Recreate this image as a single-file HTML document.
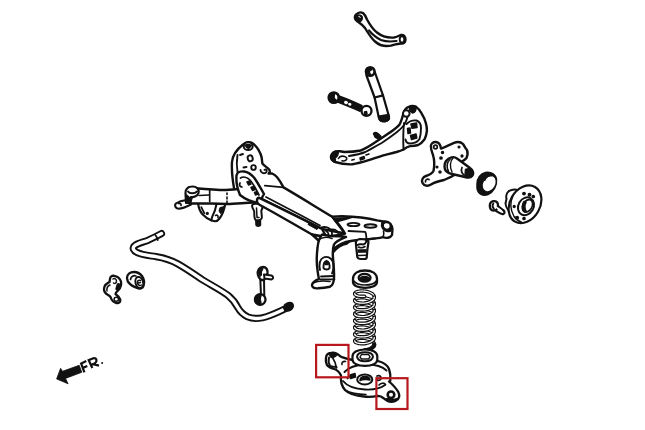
<!DOCTYPE html>
<html><head><meta charset="utf-8">
<style>
html,body{margin:0;padding:0;background:#fff;width:645px;height:430px;overflow:hidden}
svg{display:block;filter:blur(0.3px)}
.s{fill:#fff;stroke:#111;stroke-linejoin:round;stroke-linecap:round}
.s:not([stroke-width]){stroke-width:2.4}
.n{fill:none;stroke:#111;stroke-linejoin:round;stroke-linecap:round}
.n:not([stroke-width]){stroke-width:2.2}
.t{fill:none;stroke:#111;stroke-linecap:round}
.t:not([stroke-width]){stroke-width:1.7}
.k{fill:#111;stroke:#111;stroke-linejoin:round}
.k:not([stroke-width]){stroke-width:1.5}
.r{fill:none;stroke:#b8181d;stroke-width:2.2}
</style></head><body>
<svg width="645" height="430" viewBox="0 0 645 430">
<!-- subframe -->
<g id="subframe">
<!-- tower + top face -->
<path class="s" d="M243,144.5 C246,141.5 251,141.5 253.5,143.8 C256,146 257.5,148 258.5,149.9 C260,152.5 261.2,155 261.6,157.3 C262,159.5 262,161.5 262.4,163.5 C264,165.5 266,166.5 267.5,168 C269,169 270,170 269.8,171.5 C269.5,172.5 269,173 268.6,173.6 L272.1,173.5 C274,174.5 275.8,175.8 277.1,177.2 C279.5,180 281.5,183.5 283.5,187.4 C300,197 316,207 332.3,216.8 L345,233.5 L322,229 C300,218 280,208 258.7,197.7 L240,195 L234.3,189.8 C232.5,180 231.5,170 232,162 C232.5,156 236,150 243,144.5 Z"/>
<ellipse cx="248.2" cy="146.2" rx="4.5" ry="3.9" class="s" stroke-width="2"/>
<path class="k" d="M245.2,145.2 C246.5,144.5 249.5,144.5 251.2,145.2 C250.5,147.5 248.5,148.3 248.2,148.3 C247.5,148 246,147 245.2,145.2 Z"/>
<path class="n" d="M237.5,155 C236.5,161 236.5,166 237.5,172" stroke-width="1.9"/>
<ellipse cx="250.2" cy="158.3" rx="2.5" ry="3" transform="rotate(-15 250.2 158.3)" class="t" stroke-width="1.9"/>
<path class="t" d="M240,155 L243,154" stroke-width="1.9"/>
<path class="t" d="M243.5,167.5 L246.5,167" stroke-width="1.9"/>
<ellipse cx="253.5" cy="167.5" rx="2.3" ry="2.4" class="t" stroke-width="1.9"/>
<path class="t" d="M260.5,170 C260.5,173 264,174 266,172.5 C267.5,171 266.5,169 264.5,169.8" stroke-width="1.9"/>
<path class="n" d="M264.9,185.6 L283.5,187.4" stroke-width="1.9"/>
<!-- hanging bracket under crossmember -->
<path class="s" d="M198,203 C198.5,207 199.5,211 202.5,214.3 C204.5,216.5 207.5,219 211.5,220.4 L214,221 C216,221.8 218,220.5 219.5,218.5 C222,215.5 224,211 225.5,203 Z" stroke-width="2.1"/>
<path class="n" d="M216.4,204.5 C215.8,208 214.8,212 212.5,216 C211.8,217.5 211.5,219 211.5,220.4" stroke-width="2"/>
<path class="n" d="M201.3,207.1 C202.2,209 203.2,211 204.3,213.1" stroke-width="1.8"/>
<circle cx="207.3" cy="213.4" r="1.6" fill="#111"/>
<path class="k" d="M220,207.5 L224.5,206.5 L223.5,211.5 L220.5,213.5 L219,211 Z" stroke-width="1"/>
<path class="n" d="M215.5,215.5 C217,214.5 218.5,215.5 218,217.5" stroke-width="1.6"/>
<!-- left crossmember -->
<path class="s" d="M188.5,187.5 C200,188.5 212,190 226,190 C234,189.5 242,188.5 252,188.5 L254,202.5 C243,203 235,204 227,204 L211,203.5 L190,203.5 Z"/>
<path class="s" d="M186.5,200 C182,200.5 178,202 175.8,203.5 C174.3,205.5 175.3,208.5 178.5,208.8 C182.5,208.5 187,206.5 191,204.5 Z" stroke-width="2.1"/>
<path class="t" d="M178.5,203.5 C180,203 181.5,204 181,205.5"/>
<path class="s" d="M185.5,193 C185,189 188.5,186.5 192.5,186.5 C196.5,186.5 199.5,189 198.5,193 C197.5,196 194,197.5 191,197 L190,203 L186,203 Z" stroke-width="2.2"/>
<path class="k" d="M186.5,195 C188,197 190,198 192,198 L190.5,203 L186.5,203 Z"/>
<path class="n" d="M188,191.5 C189.5,193.8 194.5,194 197,191.5" stroke-width="2"/>
<path class="n" d="M199,195.5 L209,195" stroke-width="1.6"/>
<path class="n" d="M209.7,190.5 L209.7,201.5" stroke-width="1.7"/>
<path class="n" d="M227,193 L227,194.5 M227,197 L227,199 M227,201 L227,203.5" stroke-width="1.6"/>
<!-- rail left raised end -->
<path class="s" d="M236.5,175.5 C237,172.5 240.5,171 244,171.5 C247.5,172 251,174 254,177.5 C258,183 261,189 264,194 L259,203 C252,202 245,199 240,195 C237.5,189 236,181 236.5,175.5 Z"/>
<path class="n" d="M240.5,178 C243,176.5 247,177 250,180 C253.5,184 256,189 259,195" stroke-width="1.7"/>
<path class="k" d="M247,182 L249.5,181 L251,184 L248.5,185 Z M251,187.5 L253.5,186.5 L255,189.5 L252.5,190.5 Z M254.5,192.5 L257,191.5 L258,194 L255.5,195 Z"/>
<path class="t" d="M240,183 C239,185 240,187 242,187"/>
<!-- hanging bolt -->
<path class="k" d="M255.8,219 L260.4,219 L260.5,225 C260,226.5 256.5,226.5 256,225 Z"/>
<path class="s" d="M252,206 C252,204 254.5,203.5 257,203.8 C260,204 262.5,205 262.5,207.5 C262.3,209 261.5,210 261.3,211 C261.5,213.5 262,216 261.8,218 C261,220.3 257.5,220.8 255.5,219.8 C254.3,218.5 254.2,215 254.3,212 C254.3,210.5 253.5,209.5 252.8,208.5 Z" stroke-width="2"/>
<path class="n" d="M256.5,208 L257,217.5 L259,217.5" stroke-width="1.5"/>
<!-- front tube -->
<path class="s" d="M258.7,197.7 C280,208 300,218 322,229 L327,238 C320,238 316,237 312,234.5 C295,225 277,214 259.4,204.7 C256.5,203.5 256,199 258.7,197.7 Z"/>
<path class="n" d="M266,197 C285,207 302,216 320,225.5" stroke-width="1.7"/>
<path class="k" d="M309,222.5 L318,227.5 L317,229.5 L308,224.5 Z" stroke-width="1"/>
<!-- right bracket -->
<path class="s" d="M332.3,216.8 L342,216.2 C355,216.5 366,217.5 377,220.4 L388,222.3 C392,224.5 393,230 392,235 C390.5,238 386,238.5 383,237.2 C378,238.5 372,239 365,239.5 C358,240 350,241 346,242 C340,244 334,248 330,253 L318,240 L312,234.5 C322,237 334,237 345,233.5 C342,228 337,222 332.3,216.8 Z"/>
<path class="n" d="M320,228 C324,226.5 328,227 330.5,229.5 C332.5,232 332.5,235 331,238" stroke-width="1.9"/>
<path class="n" d="M326,231 C328,232 329,234.5 328,237" stroke-width="1.6"/>
<path class="n" d="M330.5,229.5 C334,228.5 337,230 338,233" stroke-width="1.6"/>
<path class="k" d="M334,219 L352,217.3 C348,219 342,220 336,222 Z"/>
<ellipse cx="353.5" cy="224.5" rx="6" ry="1.6" class="s" stroke-width="1.9"/>
<ellipse cx="370.5" cy="226" rx="6" ry="1.8" class="s" stroke-width="1.9"/>
<path class="n" d="M348.5,231 L365,231.8 C366.5,233 366,236 366.5,239" stroke-width="1.8"/>
<path class="k" d="M382,222 C386,220 391,222 392.3,226.5 C393,230 391,232 387.5,231.5 C384,231 382,228.5 381.5,225.5 Z"/>
<path d="M384,224.5 C385,222.8 387.5,222.8 389,224 C390,225.5 389.8,227.8 388,228.5 C386.5,229 384.5,228 384,226.5 Z" fill="#fff"/>
<path class="n" d="M383.5,231 C384,233 384,235.5 383,237.2" stroke-width="1.6"/>
<path class="k" d="M332,251 C336,246 342,243 350,241.5 L347,244 C341,245 337,248 333,253 Z"/>
<!-- bump stop bracket -->
<path class="s" d="M355.8,242 C356,246 356.8,252 357.3,257 C357.8,258.5 359,259 361,259 L364.5,259 C366,259 366.8,258 366.8,257 C367,252 367.8,246 368.5,242 C367,239.5 363,239 360,239 C358,239.2 356.5,240 355.8,242 Z" stroke-width="2.2"/>
<path class="n" d="M357.5,245 C359.5,243.5 361.5,244.5 363,244.5 C365,244.3 366,242.5 366.5,241 C368,239.5 371,238.8 375,238.6" stroke-width="2"/>
<path class="n" d="M358.5,247 C360.5,248 363,248 365,246.5" stroke-width="1.6"/>
<path class="k" d="M357.8,249.8 L366.2,249.5 L366,252.2 L358.2,252.5 Z" stroke-width="0.8"/>
<path class="t" d="M358.6,255.5 L366,255.3" stroke-width="1.6"/>
<!-- leg -->
<path class="s" d="M322.2,234.5 C319,238 318,242 317.5,248 C316.5,256 316.5,263 317.4,269.3 C318,274 318.5,277 319,278.8 C316,280 312.5,282 312,285 C312,287.5 314,288.5 318,288.3 C322,288 326,287.5 330,286.7 C332.5,285.5 333.8,283 334,278 C334.3,272 333.8,266 333.2,260 C332.5,254 332.5,249 334,244.5 C336,241 340,239.5 346,237 C340,236 334,236 330,236 Z"/>
<path class="n" d="M318,240 C322,237 328,237 332,238.5" stroke-width="1.6"/>
<path class="n" d="M320,270 C319,265 319.5,259.5 323.5,257.5 C327,256 331,257.5 332.8,261.5 C334,265 333.5,270 332,273.5" stroke-width="1.9"/>
<path class="s" d="M323.5,268 C323.3,264 324,261.5 326.5,260.8 C329,261.5 329.8,264 329.6,268 C328.5,270 324.5,270 323.5,268 Z" stroke-width="1.9"/>
<path class="k" d="M325,262.5 C325.8,261 327.5,261 328.2,262.5 L328,264.5 L325.2,264.5 Z"/>
<path class="t" d="M321,276.5 L334,276 M320.5,279.5 L334.5,279.3" stroke-width="1.8"/>
<path class="t" d="M313,283 C317,281 322,280.5 330,281.5" stroke-width="1.6"/>
</g>
<!-- top upper arm -->
<g id="toparm">
<path class="s" d="M356,14.5 C358,12.5 361,12 363,13 C365,14.5 366,17 367,19.5 C370,25 373,29.5 377,32.5 C382,36.5 388,38 394,37.5 C397,37 399,35.5 401,35 C403.5,34.5 405.5,36.5 405.5,39.5 C405.5,42.5 403.5,44 401,43.5 C398,43.5 395,44.5 391,45.6 C385,46.8 379,45 375,41.5 C371,38 368,33 365,28 C362.5,24.5 359,22.5 357,21 C354.5,19 354.5,16.5 356,14.5 Z"/>
<path class="k" d="M356,16 C357.5,14.5 360.5,14.5 362,16.5 C362.8,18.5 362,21 360,21.5 C358,22 355.5,20.5 355.3,18.5 Z"/>
<path d="M358.5,16.5 C359.5,16 360.5,17 360,18" fill="none" stroke="#fff" stroke-width="1"/>
<path class="n" d="M369,30.5 C372.5,34.5 376.5,38 381,40 C386,41.8 391,41.8 396.5,41" stroke-width="2.2"/>
<ellipse cx="402" cy="39.5" rx="2.3" ry="3.1" class="s" stroke-width="1.9"/>
</g>
<!-- shock absorber -->
<g id="shock">
<path class="s" d="M366.3,75 L374.6,97.5 L378.8,117.5 C379.5,120.3 382,121.5 384.8,121.3 C387.8,121 389.6,119.3 389,116.5 L383,95.4 L374.8,72 Z" stroke-width="2.2"/>
<path class="n" d="M374.6,97.5 L383,95.4" stroke-width="2.2"/>
<path class="k" d="M378.5,116.2 L388.6,114.5 L389.2,118 C388.8,120.5 386.5,121.6 383.8,121.6 C381,121.5 379.5,120.5 379,118.5 Z"/>
<circle cx="370.2" cy="71.5" r="4.3" class="s" stroke-width="2.5"/>
<path class="k" d="M366.8,70 C367.3,68.3 369,67.5 371,67.8 L372,69.8 C370.2,69.7 369.2,71 369.5,73 L370.6,74.6 C368.6,74.6 366.6,72.5 366.8,70 Z"/>
</g>
<!-- toe link -->
<g id="toelink">
<path class="k" d="M338,95.8 C345,98 352,101 362,105.8 L360,111.2 C351,107.5 344,104.5 336.5,101.5 Z"/>
<ellipse cx="346" cy="102.5" rx="2" ry="1.7" transform="rotate(25 346 102.5)" fill="#fff"/>
<ellipse cx="349.8" cy="104.3" rx="1.7" ry="1.4" transform="rotate(25 349.8 104.3)" fill="#fff"/>
<circle cx="333.8" cy="97.6" r="5" class="s" stroke-width="2.8"/>
<path class="k" d="M330,96 C330.5,94 332.5,93 334.5,93.5 L334,97.5 C334.5,99 335.5,100 336.5,100.5 L334.5,101.8 C331.5,101.5 329.7,99 330,96 Z"/>
<circle cx="366.5" cy="110.8" r="5" class="s" stroke-width="2.3"/>
<path class="k" d="M364.5,112 L366.5,111.5 L367,114 L365,114.5 Z"/>
</g>
<!-- trailing arm carrier -->
<g id="carrier">
<path class="s" d="M331,156 C332,152.5 335.5,151 340,151.3 L344.3,152 C350,152 356,151.5 360.6,150.5 C366,148.5 371,145 375.2,142.3 C380,139 385,136 389.8,132.6 C394,129.5 397.5,127 399.6,124.4 C401.5,121 402.5,117 403.5,113 C404.5,109.5 407,107 410,106.3 C412.5,105.8 414.5,106 415.9,106.6 C418.5,108.5 420.5,111 421.7,113.6 C423.5,116.5 425,119.5 425.8,122.9 C426.7,126 427,128.5 426.9,131 C426.5,134 425.7,137 424.6,139.2 C422.5,142 420.5,144 418.2,145 C415.5,145.8 412.8,146 410.1,146.1 C408,146.5 406,147.5 403.5,149.5 C400,151 398,151.5 396.4,152 C391,153.5 387,154.3 383.3,155.3 C378,157 373,158.8 368.7,160.2 C363,162 358,163.5 352.4,164.3 C346,164.6 340,163.5 335,162 C331.8,160.5 330.6,158.5 331,156 Z"/>
<path class="n" d="M349,156 C355,155 360,154 365.4,152 C371,149 376,146 381.7,143 C387,139.5 392,136 396.4,132.6 C400,129.5 403,127 404.5,124.4 C406,121.5 407,119 407.8,116.3" stroke-width="1.9"/>
<path class="n" d="M404,123 C403.3,130 403,138 403.5,149.5" stroke-width="1.9"/>
<circle cx="406.3" cy="113.5" r="3.3" class="s" stroke-width="1.9"/>
<path class="k" d="M409.5,107 C411.5,105.8 414.5,106 416,107.5 C416.5,110 415,112.5 412.5,113 C411,112.5 410,111 409.5,110 Z"/>
<path class="n" d="M406.5,124 C409,121.5 413,120 416.5,120.5 C419.5,121.5 421,124.5 421,128 C421,132 420.5,136 419.5,139 C417.5,142 414,143.5 410,143.5 C407.5,143.5 406,142 405.5,139.5" stroke-width="1.9"/>
<path class="k" d="M411,124 L416.5,123 L417,127.5 L412,128.3 Z"/>
<path class="k" d="M407.5,128.5 L410,128 L410.5,133 L408,133.5 Z"/>
<path class="k" d="M410.5,135.5 L416,134 L416.8,138 L411.5,139.5 Z"/>
<path class="k" d="M373.5,133.5 C375,132 377,132.5 378.5,134 L381,136.5 L378.5,139 L375,137 Z"/>
<path class="k" d="M331,156 C332,152.5 335,151 338,151.5 C339,154 337,157 335,158 C336,160 335,162 334,162 C331.5,160.5 330.5,158.5 331,156 Z"/>
<path class="t" d="M338.5,158.5 C340,155.5 344,155.5 346.5,157.5 C347.5,159.5 345.5,161.5 342,160.8" stroke-width="1.6"/>
<path class="t" d="M352,160 L354,159.5" stroke-width="1.8"/>
<path class="k" d="M360,158 L364,156.5 L364.5,158.5 L360.5,160 Z"/>
<path class="t" d="M366,155 L369,154" stroke-width="1.6"/>
</g>
<!-- knuckle -->
<g id="knuckle">
<path class="s" d="M430.8,146.5 C430.8,143.5 433,141.8 436,142 C439,142.3 440.5,144.8 441,148.5 C444.5,147.5 449,145 454,142.8 C457.5,141.5 461,142 463,144 C464.5,146 465,148 467,150 C468,153 467.5,156 466.5,158 C465,160 463,161 461,162 L456,174 C453,176 449,178 444,180 C439,181 435,182 431,184.5 C428,186.5 424,186 422.5,183 C421,180 423,177 426,176 C429,175 432,173.5 433.5,171 C434.5,166 434.5,160 433,155 C432,152 430.5,149 431,146 Z"/>
<circle cx="435.5" cy="147" r="1.8" class="t"/>
<path class="t" d="M425.5,182 C425,180 427,178.5 429,179.5"/>
<circle cx="442.5" cy="152.5" r="1" class="k"/><circle cx="441" cy="158" r="1.1" class="k"/>
<circle cx="440" cy="172" r="1" class="k"/><circle cx="437" cy="167" r="0.8" class="k"/>
<circle cx="462" cy="156" r="0.9" class="k"/><circle cx="459" cy="147" r="0.8" class="k"/>
<path class="s" d="M446,161 C449,157 454,156 457,158.5 L470,168 C473,170 474,173 472.5,175.5 C471,177.5 468,178 465,177 L452,174 C447,173 444.5,170 444.5,166.5 C444.5,164 445,162.5 446,161 Z"/>
<path class="n" d="M450,159.5 C447,162 446,167 448.5,171.5" stroke-width="1.6"/>
<path class="n" d="M453,158 C450,161 449.5,167 452,172" stroke-width="1.4"/>
<path class="k" d="M465.5,169.5 C467.5,168.5 470,168.5 471.5,170 C473.5,172 473.5,175 472,176 C470,177 467,176.5 465,175.5 Z"/>
<path class="t" d="M462,167.5 C461,170 461.5,173 464,175"/>
</g>
<!-- seal ring -->
<g id="seal">
<path class="k" d="M477,184 C477,178 480.5,173.5 485.5,172.5 C491,171.5 495.8,174.5 496.5,179.5 C497.2,185.5 493.5,192 488,194.5 C482.5,196.5 477.5,193.5 477,188 Z"/>
<ellipse cx="489.2" cy="183.6" rx="5.8" ry="8" transform="rotate(30 489.2 183.6)" fill="#fff"/>
<path d="M484.5,181 C485.5,177 489,175 492,176" fill="none" stroke="#111" stroke-width="1.3"/>
</g>
<!-- hub bolt -->
<g id="bolt">
<path class="s" d="M496,205 C498.5,206.5 501,208.3 503,210 C504.8,211.3 505,213.3 503.5,214 C502,214.6 500,213.6 498,212.2 C496.5,211.2 495.5,210.3 494.5,209.5 Z" stroke-width="2.2"/>
<path class="s" d="M489.8,205.5 C489.8,202.5 492,201 494.3,201.2 C496.8,201.5 498.2,203.5 498,206 C497.8,208.5 496,210.6 493.5,210.6 C491.2,210.5 489.8,208.3 489.8,205.5 Z" stroke-width="2.3"/>
<path class="n" d="M493.3,203.5 C492.3,205 492.5,207.5 494,209" stroke-width="1.8"/>
<path d="M496.2,207.2 L501.5,211" stroke="#fff" stroke-width="1.6"/>
</g>
<!-- hub -->
<g id="hub">
<path class="s" d="M506.5,199 C505.5,194.5 507.5,191 511.5,190 C514,189.3 516.5,189.5 518,190.5 L521,214 L514,213.5 C509,212.5 506,208 505.5,203.5 Z" stroke-width="2"/>
<ellipse cx="525" cy="204.3" rx="15" ry="20" transform="rotate(30 525 204.3)" class="s" stroke-width="2.2"/>
<path d="M513,196 C510,202 510.5,210 514,216.5 C516,219.5 519,221.5 522,222.5" fill="none" stroke="#111" stroke-width="1.4"/>
<ellipse cx="526" cy="206.3" rx="7.6" ry="9.3" transform="rotate(30 526 206.3)" class="s" stroke-width="2"/>
<ellipse cx="527.5" cy="205.8" rx="4.6" ry="6.6" transform="rotate(30 527.5 205.8)" class="s" stroke-width="1.8"/>
<path class="k" d="M524,201.5 C522,204 522,209 524.5,212 L526,211 C524.5,208.5 524.5,204.5 526,202.5 Z"/>
<circle cx="524" cy="193.6" r="1.2" class="k"/><circle cx="529.5" cy="194.8" r="1.2" class="k"/><circle cx="533.3" cy="196.5" r="1.1" class="k"/>
<circle cx="514.2" cy="206.5" r="0.9" class="k"/><circle cx="517" cy="217.8" r="1.4" class="k"/><circle cx="524" cy="218.5" r="1.1" class="k"/>
</g>
<!-- spring seat -->
<g id="seat">
<path class="s" d="M353,279 C353,273.5 358,270.5 365,270.5 C372,270.5 377,273.5 377,279 L377,282 C377,285.5 372,287.8 365,287.8 C358,287.8 353,285.5 353,282 Z" stroke-width="2.3"/>
<path class="n" d="M353.8,281 C356,284 360,285 365,285 C370,285 374.5,284 376.3,281" stroke-width="1.7"/>
<ellipse cx="364.6" cy="277.8" rx="6" ry="3.9" class="s" stroke-width="2.2"/>
<path class="k" d="M359.5,279.5 C360,277.5 362,276.5 364.6,276.5 C367.5,276.5 369.3,277.5 369.7,279.5 C368,281.3 361.5,281.3 359.5,279.5 Z"/>
</g>
<!-- spring -->
<g id="spring">
<path d="M354.7,293.7 L354.8,293.3 L355.0,292.9 L355.4,292.5 L356.0,292.1 L356.7,291.8 L357.6,291.5 L358.5,291.3 L359.6,291.1 L360.7,291.0 L362.0,290.9 L363.2,291.0 L364.5,291.1 L365.8,291.3 L367.0,291.5 L368.3,291.8 L369.4,292.2 L370.5,292.7 L371.4,293.2 L372.3,293.7 L373.0,294.4 L373.6,295.0 L374.0,295.7 L374.2,296.4 L374.3,297.1" fill="none" stroke="#111" stroke-width="3.4" stroke-linecap="round"/>
<path d="M354.7,293.7 L354.8,293.3 L355.0,292.9 L355.4,292.5 L356.0,292.1 L356.7,291.8 L357.6,291.5 L358.5,291.3 L359.6,291.1 L360.7,291.0 L362.0,290.9 L363.2,291.0 L364.5,291.1 L365.8,291.3 L367.0,291.5 L368.3,291.8 L369.4,292.2 L370.5,292.7 L371.4,293.2 L372.3,293.7 L373.0,294.4 L373.6,295.0 L374.0,295.7 L374.2,296.4 L374.3,297.1" fill="none" stroke="#fff" stroke-width="1.2" stroke-linecap="round"/>
<path d="M354.7,300.4 L354.8,300.0 L355.0,299.6 L355.4,299.2 L356.0,298.9 L356.7,298.5 L357.6,298.2 L358.5,298.0 L359.6,297.8 L360.7,297.7 L362.0,297.7 L363.2,297.7 L364.5,297.8 L365.8,298.0 L367.0,298.3 L368.3,298.6 L369.4,299.0 L370.5,299.4 L371.4,299.9 L372.3,300.5 L373.0,301.1 L373.6,301.7 L374.0,302.4 L374.2,303.1 L374.3,303.8" fill="none" stroke="#111" stroke-width="3.4" stroke-linecap="round"/>
<path d="M354.7,300.4 L354.8,300.0 L355.0,299.6 L355.4,299.2 L356.0,298.9 L356.7,298.5 L357.6,298.2 L358.5,298.0 L359.6,297.8 L360.7,297.7 L362.0,297.7 L363.2,297.7 L364.5,297.8 L365.8,298.0 L367.0,298.3 L368.3,298.6 L369.4,299.0 L370.5,299.4 L371.4,299.9 L372.3,300.5 L373.0,301.1 L373.6,301.7 L374.0,302.4 L374.2,303.1 L374.3,303.8" fill="none" stroke="#fff" stroke-width="1.2" stroke-linecap="round"/>
<path d="M354.7,307.2 L354.8,306.8 L355.0,306.4 L355.4,306.0 L356.0,305.6 L356.7,305.3 L357.6,305.0 L358.5,304.8 L359.6,304.6 L360.7,304.5 L362.0,304.4 L363.2,304.5 L364.5,304.6 L365.8,304.8 L367.0,305.0 L368.3,305.3 L369.4,305.7 L370.5,306.2 L371.4,306.7 L372.3,307.2 L373.0,307.9 L373.6,308.5 L374.0,309.2 L374.2,309.9 L374.3,310.6" fill="none" stroke="#111" stroke-width="3.4" stroke-linecap="round"/>
<path d="M354.7,307.2 L354.8,306.8 L355.0,306.4 L355.4,306.0 L356.0,305.6 L356.7,305.3 L357.6,305.0 L358.5,304.8 L359.6,304.6 L360.7,304.5 L362.0,304.4 L363.2,304.5 L364.5,304.6 L365.8,304.8 L367.0,305.0 L368.3,305.3 L369.4,305.7 L370.5,306.2 L371.4,306.7 L372.3,307.2 L373.0,307.9 L373.6,308.5 L374.0,309.2 L374.2,309.9 L374.3,310.6" fill="none" stroke="#fff" stroke-width="1.2" stroke-linecap="round"/>
<path d="M354.7,313.9 L354.8,313.5 L355.0,313.1 L355.4,312.7 L356.0,312.4 L356.7,312.0 L357.6,311.7 L358.5,311.5 L359.6,311.3 L360.7,311.2 L362.0,311.2 L363.2,311.2 L364.5,311.3 L365.8,311.5 L367.0,311.8 L368.3,312.1 L369.4,312.5 L370.5,312.9 L371.4,313.4 L372.3,314.0 L373.0,314.6 L373.6,315.2 L374.0,315.9 L374.2,316.6 L374.3,317.3" fill="none" stroke="#111" stroke-width="3.4" stroke-linecap="round"/>
<path d="M354.7,313.9 L354.8,313.5 L355.0,313.1 L355.4,312.7 L356.0,312.4 L356.7,312.0 L357.6,311.7 L358.5,311.5 L359.6,311.3 L360.7,311.2 L362.0,311.2 L363.2,311.2 L364.5,311.3 L365.8,311.5 L367.0,311.8 L368.3,312.1 L369.4,312.5 L370.5,312.9 L371.4,313.4 L372.3,314.0 L373.0,314.6 L373.6,315.2 L374.0,315.9 L374.2,316.6 L374.3,317.3" fill="none" stroke="#fff" stroke-width="1.2" stroke-linecap="round"/>
<path d="M354.7,320.7 L354.8,320.3 L355.0,319.9 L355.4,319.5 L356.0,319.1 L356.7,318.8 L357.6,318.5 L358.5,318.3 L359.6,318.1 L360.7,318.0 L362.0,317.9 L363.2,318.0 L364.5,318.1 L365.8,318.3 L367.0,318.5 L368.3,318.8 L369.4,319.2 L370.5,319.7 L371.4,320.2 L372.3,320.7 L373.0,321.4 L373.6,322.0 L374.0,322.7 L374.2,323.4 L374.3,324.1" fill="none" stroke="#111" stroke-width="3.4" stroke-linecap="round"/>
<path d="M354.7,320.7 L354.8,320.3 L355.0,319.9 L355.4,319.5 L356.0,319.1 L356.7,318.8 L357.6,318.5 L358.5,318.3 L359.6,318.1 L360.7,318.0 L362.0,317.9 L363.2,318.0 L364.5,318.1 L365.8,318.3 L367.0,318.5 L368.3,318.8 L369.4,319.2 L370.5,319.7 L371.4,320.2 L372.3,320.7 L373.0,321.4 L373.6,322.0 L374.0,322.7 L374.2,323.4 L374.3,324.1" fill="none" stroke="#fff" stroke-width="1.2" stroke-linecap="round"/>
<path d="M354.7,327.4 L354.8,327.0 L355.0,326.6 L355.4,326.2 L356.0,325.9 L356.7,325.5 L357.6,325.2 L358.5,325.0 L359.6,324.8 L360.7,324.7 L362.0,324.7 L363.2,324.7 L364.5,324.8 L365.8,325.0 L367.0,325.3 L368.3,325.6 L369.4,326.0 L370.5,326.4 L371.4,326.9 L372.3,327.5 L373.0,328.1 L373.6,328.7 L374.0,329.4 L374.2,330.1 L374.3,330.8" fill="none" stroke="#111" stroke-width="3.4" stroke-linecap="round"/>
<path d="M354.7,327.4 L354.8,327.0 L355.0,326.6 L355.4,326.2 L356.0,325.9 L356.7,325.5 L357.6,325.2 L358.5,325.0 L359.6,324.8 L360.7,324.7 L362.0,324.7 L363.2,324.7 L364.5,324.8 L365.8,325.0 L367.0,325.3 L368.3,325.6 L369.4,326.0 L370.5,326.4 L371.4,326.9 L372.3,327.5 L373.0,328.1 L373.6,328.7 L374.0,329.4 L374.2,330.1 L374.3,330.8" fill="none" stroke="#fff" stroke-width="1.2" stroke-linecap="round"/>
<path d="M354.7,334.2 L354.8,333.8 L355.0,333.4 L355.4,333.0 L356.0,332.6 L356.7,332.3 L357.6,332.0 L358.5,331.8 L359.6,331.6 L360.7,331.5 L362.0,331.4 L363.2,331.5 L364.5,331.6 L365.8,331.8 L367.0,332.0 L368.3,332.3 L369.4,332.7 L370.5,333.2 L371.4,333.7 L372.3,334.2 L373.0,334.9 L373.6,335.5 L374.0,336.2 L374.2,336.9 L374.3,337.6" fill="none" stroke="#111" stroke-width="3.4" stroke-linecap="round"/>
<path d="M354.7,334.2 L354.8,333.8 L355.0,333.4 L355.4,333.0 L356.0,332.6 L356.7,332.3 L357.6,332.0 L358.5,331.8 L359.6,331.6 L360.7,331.5 L362.0,331.4 L363.2,331.5 L364.5,331.6 L365.8,331.8 L367.0,332.0 L368.3,332.3 L369.4,332.7 L370.5,333.2 L371.4,333.7 L372.3,334.2 L373.0,334.9 L373.6,335.5 L374.0,336.2 L374.2,336.9 L374.3,337.6" fill="none" stroke="#fff" stroke-width="1.2" stroke-linecap="round"/>
<path d="M354.7,340.9 L354.8,340.5 L355.0,340.1 L355.4,339.7 L356.0,339.4 L356.7,339.0 L357.6,338.7 L358.5,338.5 L359.6,338.3 L360.7,338.2 L362.0,338.2 L363.2,338.2 L364.5,338.3 L365.8,338.5 L367.0,338.8 L368.3,339.1 L369.4,339.5 L370.5,339.9 L371.4,340.4 L372.3,341.0 L373.0,341.6 L373.6,342.2 L374.0,342.9 L374.2,343.6 L374.3,344.3" fill="none" stroke="#111" stroke-width="3.4" stroke-linecap="round"/>
<path d="M354.7,340.9 L354.8,340.5 L355.0,340.1 L355.4,339.7 L356.0,339.4 L356.7,339.0 L357.6,338.7 L358.5,338.5 L359.6,338.3 L360.7,338.2 L362.0,338.2 L363.2,338.2 L364.5,338.3 L365.8,338.5 L367.0,338.8 L368.3,339.1 L369.4,339.5 L370.5,339.9 L371.4,340.4 L372.3,341.0 L373.0,341.6 L373.6,342.2 L374.0,342.9 L374.2,343.6 L374.3,344.3" fill="none" stroke="#fff" stroke-width="1.2" stroke-linecap="round"/>
<path d="M364.5,296.3 L363.9,296.4 L363.2,296.4 L362.6,296.4 L362.0,296.4 L361.3,296.4 L360.7,296.4 L360.2,296.3 L359.6,296.3 L359.1,296.2 L358.5,296.1 L358.0,296.0 L357.6,295.9 L357.1,295.7 L356.7,295.6 L356.4,295.4 L356.0,295.3 L355.7,295.1 L355.4,294.9 L355.2,294.7 L355.0,294.5 L354.9,294.3 L354.8,294.1 L354.7,293.9 L354.7,293.7" fill="none" stroke="#111" stroke-width="3.6" stroke-linecap="round"/>
<path d="M364.5,296.3 L363.9,296.4 L363.2,296.4 L362.6,296.4 L362.0,296.4 L361.3,296.4 L360.7,296.4 L360.2,296.3 L359.6,296.3 L359.1,296.2 L358.5,296.1 L358.0,296.0 L357.6,295.9 L357.1,295.7 L356.7,295.6 L356.4,295.4 L356.0,295.3 L355.7,295.1 L355.4,294.9 L355.2,294.7 L355.0,294.5 L354.9,294.3 L354.8,294.1 L354.7,293.9 L354.7,293.7" fill="none" stroke="#fff" stroke-width="1.3" stroke-linecap="round"/>
<path d="M374.3,297.1 L374.2,297.8 L374.0,298.5 L373.6,299.1 L373.0,299.8 L372.3,300.4 L371.4,300.9 L370.5,301.5 L369.4,301.9 L368.3,302.3 L367.0,302.6 L365.8,302.9 L364.5,303.1 L363.2,303.2 L362.0,303.2 L360.7,303.1 L359.6,303.0 L358.5,302.9 L357.6,302.6 L356.7,302.4 L356.0,302.0 L355.4,301.7 L355.0,301.3 L354.8,300.9 L354.7,300.4" fill="none" stroke="#111" stroke-width="3.6" stroke-linecap="round"/>
<path d="M374.3,297.1 L374.2,297.8 L374.0,298.5 L373.6,299.1 L373.0,299.8 L372.3,300.4 L371.4,300.9 L370.5,301.5 L369.4,301.9 L368.3,302.3 L367.0,302.6 L365.8,302.9 L364.5,303.1 L363.2,303.2 L362.0,303.2 L360.7,303.1 L359.6,303.0 L358.5,302.9 L357.6,302.6 L356.7,302.4 L356.0,302.0 L355.4,301.7 L355.0,301.3 L354.8,300.9 L354.7,300.4" fill="none" stroke="#fff" stroke-width="1.3" stroke-linecap="round"/>
<path d="M374.3,303.8 L374.2,304.5 L374.0,305.2 L373.6,305.9 L373.0,306.5 L372.3,307.1 L371.4,307.7 L370.5,308.2 L369.4,308.7 L368.3,309.1 L367.0,309.4 L365.8,309.6 L364.5,309.8 L363.2,309.9 L362.0,309.9 L360.7,309.9 L359.6,309.8 L358.5,309.6 L357.6,309.4 L356.7,309.1 L356.0,308.8 L355.4,308.4 L355.0,308.0 L354.8,307.6 L354.7,307.2" fill="none" stroke="#111" stroke-width="3.6" stroke-linecap="round"/>
<path d="M374.3,303.8 L374.2,304.5 L374.0,305.2 L373.6,305.9 L373.0,306.5 L372.3,307.1 L371.4,307.7 L370.5,308.2 L369.4,308.7 L368.3,309.1 L367.0,309.4 L365.8,309.6 L364.5,309.8 L363.2,309.9 L362.0,309.9 L360.7,309.9 L359.6,309.8 L358.5,309.6 L357.6,309.4 L356.7,309.1 L356.0,308.8 L355.4,308.4 L355.0,308.0 L354.8,307.6 L354.7,307.2" fill="none" stroke="#fff" stroke-width="1.3" stroke-linecap="round"/>
<path d="M374.3,310.6 L374.2,311.3 L374.0,312.0 L373.6,312.6 L373.0,313.3 L372.3,313.9 L371.4,314.4 L370.5,315.0 L369.4,315.4 L368.3,315.8 L367.0,316.1 L365.8,316.4 L364.5,316.6 L363.2,316.7 L362.0,316.7 L360.7,316.6 L359.6,316.5 L358.5,316.4 L357.6,316.1 L356.7,315.9 L356.0,315.5 L355.4,315.2 L355.0,314.8 L354.8,314.4 L354.7,313.9" fill="none" stroke="#111" stroke-width="3.6" stroke-linecap="round"/>
<path d="M374.3,310.6 L374.2,311.3 L374.0,312.0 L373.6,312.6 L373.0,313.3 L372.3,313.9 L371.4,314.4 L370.5,315.0 L369.4,315.4 L368.3,315.8 L367.0,316.1 L365.8,316.4 L364.5,316.6 L363.2,316.7 L362.0,316.7 L360.7,316.6 L359.6,316.5 L358.5,316.4 L357.6,316.1 L356.7,315.9 L356.0,315.5 L355.4,315.2 L355.0,314.8 L354.8,314.4 L354.7,313.9" fill="none" stroke="#fff" stroke-width="1.3" stroke-linecap="round"/>
<path d="M374.3,317.3 L374.2,318.0 L374.0,318.7 L373.6,319.4 L373.0,320.0 L372.3,320.6 L371.4,321.2 L370.5,321.7 L369.4,322.2 L368.3,322.6 L367.0,322.9 L365.8,323.1 L364.5,323.3 L363.2,323.4 L362.0,323.4 L360.7,323.4 L359.6,323.3 L358.5,323.1 L357.6,322.9 L356.7,322.6 L356.0,322.3 L355.4,321.9 L355.0,321.5 L354.8,321.1 L354.7,320.7" fill="none" stroke="#111" stroke-width="3.6" stroke-linecap="round"/>
<path d="M374.3,317.3 L374.2,318.0 L374.0,318.7 L373.6,319.4 L373.0,320.0 L372.3,320.6 L371.4,321.2 L370.5,321.7 L369.4,322.2 L368.3,322.6 L367.0,322.9 L365.8,323.1 L364.5,323.3 L363.2,323.4 L362.0,323.4 L360.7,323.4 L359.6,323.3 L358.5,323.1 L357.6,322.9 L356.7,322.6 L356.0,322.3 L355.4,321.9 L355.0,321.5 L354.8,321.1 L354.7,320.7" fill="none" stroke="#fff" stroke-width="1.3" stroke-linecap="round"/>
<path d="M374.3,324.1 L374.2,324.8 L374.0,325.5 L373.6,326.1 L373.0,326.8 L372.3,327.4 L371.4,327.9 L370.5,328.5 L369.4,328.9 L368.3,329.3 L367.0,329.6 L365.8,329.9 L364.5,330.1 L363.2,330.2 L362.0,330.2 L360.7,330.1 L359.6,330.0 L358.5,329.9 L357.6,329.6 L356.7,329.4 L356.0,329.0 L355.4,328.7 L355.0,328.3 L354.8,327.9 L354.7,327.4" fill="none" stroke="#111" stroke-width="3.6" stroke-linecap="round"/>
<path d="M374.3,324.1 L374.2,324.8 L374.0,325.5 L373.6,326.1 L373.0,326.8 L372.3,327.4 L371.4,327.9 L370.5,328.5 L369.4,328.9 L368.3,329.3 L367.0,329.6 L365.8,329.9 L364.5,330.1 L363.2,330.2 L362.0,330.2 L360.7,330.1 L359.6,330.0 L358.5,329.9 L357.6,329.6 L356.7,329.4 L356.0,329.0 L355.4,328.7 L355.0,328.3 L354.8,327.9 L354.7,327.4" fill="none" stroke="#fff" stroke-width="1.3" stroke-linecap="round"/>
<path d="M374.3,330.8 L374.2,331.5 L374.0,332.2 L373.6,332.9 L373.0,333.5 L372.3,334.1 L371.4,334.7 L370.5,335.2 L369.4,335.7 L368.3,336.1 L367.0,336.4 L365.8,336.6 L364.5,336.8 L363.2,336.9 L362.0,336.9 L360.7,336.9 L359.6,336.8 L358.5,336.6 L357.6,336.4 L356.7,336.1 L356.0,335.8 L355.4,335.4 L355.0,335.0 L354.8,334.6 L354.7,334.2" fill="none" stroke="#111" stroke-width="3.6" stroke-linecap="round"/>
<path d="M374.3,330.8 L374.2,331.5 L374.0,332.2 L373.6,332.9 L373.0,333.5 L372.3,334.1 L371.4,334.7 L370.5,335.2 L369.4,335.7 L368.3,336.1 L367.0,336.4 L365.8,336.6 L364.5,336.8 L363.2,336.9 L362.0,336.9 L360.7,336.9 L359.6,336.8 L358.5,336.6 L357.6,336.4 L356.7,336.1 L356.0,335.8 L355.4,335.4 L355.0,335.0 L354.8,334.6 L354.7,334.2" fill="none" stroke="#fff" stroke-width="1.3" stroke-linecap="round"/>
<path d="M374.3,337.6 L374.2,338.3 L374.0,339.0 L373.6,339.6 L373.0,340.3 L372.3,340.9 L371.4,341.4 L370.5,342.0 L369.4,342.4 L368.3,342.8 L367.0,343.1 L365.8,343.4 L364.5,343.6 L363.2,343.7 L362.0,343.7 L360.7,343.6 L359.6,343.5 L358.5,343.4 L357.6,343.1 L356.7,342.9 L356.0,342.5 L355.4,342.2 L355.0,341.8 L354.8,341.4 L354.7,340.9" fill="none" stroke="#111" stroke-width="3.6" stroke-linecap="round"/>
<path d="M374.3,337.6 L374.2,338.3 L374.0,339.0 L373.6,339.6 L373.0,340.3 L372.3,340.9 L371.4,341.4 L370.5,342.0 L369.4,342.4 L368.3,342.8 L367.0,343.1 L365.8,343.4 L364.5,343.6 L363.2,343.7 L362.0,343.7 L360.7,343.6 L359.6,343.5 L358.5,343.4 L357.6,343.1 L356.7,342.9 L356.0,342.5 L355.4,342.2 L355.0,341.8 L354.8,341.4 L354.7,340.9" fill="none" stroke="#fff" stroke-width="1.3" stroke-linecap="round"/>
<path d="M374.3,344.3 L374.3,344.7 L374.2,345.0 L374.1,345.4 L374.0,345.7 L373.8,346.0 L373.6,346.4 L373.3,346.7 L373.0,347.0 L372.6,347.3 L372.3,347.6 L371.9,347.9 L371.4,348.2 L371.0,348.5 L370.5,348.7 L369.9,348.9 L369.4,349.2 L368.8,349.4 L368.3,349.6 L367.7,349.7 L367.0,349.9 L366.4,350.0 L365.8,350.1 L365.1,350.2 L364.5,350.3" fill="none" stroke="#111" stroke-width="4.2" stroke-linecap="round"/>
</g>
<!-- lower arm -->
<g id="lowerarm">
<path class="s" d="M331,352.8 C334,352 337,353 340.2,356.2 C343,357.8 347,358.6 350.5,359.5 L358,361 C365,360.3 372,360.3 378,361 C383.5,362.5 387.5,365 389,369 C390.5,373 390.7,377 390.3,381 L389,381.5 C392.5,384.5 396,388 398.3,392 C400,395.5 399.5,399.5 395.5,401 C391.5,402.5 387,401.5 384,398.5 C382,396.8 380,395.8 378,395.8 C373,396.8 368,397 364,396.5 C356,396 349,394 345,390 C341.5,386 340.5,381 341,376 C341,378 341,376.5 341,375.5 C339.5,372.5 337,370 334,368.8 C331,368 328.5,367 327,365 C325.8,362.5 325.8,358 326.5,355.5 C327.5,353.5 329,353 331,352.8 Z" stroke-width="2.3"/>
<path class="k" d="M330,353.5 C332.5,352.3 335.5,352.8 337,354.5 C336,356.5 334,357.5 331.5,357.5 C330,357 329.5,355 330,353.5 Z"/>
<path class="n" d="M329,357.5 C328.3,360.5 328.6,363.5 330,365.8 C332,366.5 334.5,366.8 336.5,367" stroke-width="1.9"/>
<path class="n" d="M333,358.5 C334.8,361 335.8,364 336.5,368" stroke-width="1.7"/>
<path class="n" d="M345.5,361.5 C343,361 341.3,362.5 342,364.5" stroke-width="1.6"/>
<path class="n" d="M344.5,372 C348.5,367.5 356,365 365,364.5 C374,364.3 382,366 386.5,370.5" stroke-width="1.9"/>
<path class="n" d="M343,381 C347,386 356,389 365,389.5 C374,390 381,388 385,385" stroke-width="1.9"/>
<path class="n" d="M345,390 C351,393.5 358,394.5 366,394.5" stroke-width="1.5"/>
<path class="s" d="M357.2,379.4 C357.2,376.5 360.5,374.4 364.8,374.4 C369,374.4 372.3,376.5 372.3,379.4 C372.3,382.3 369,384.4 364.8,384.4 C360.5,384.4 357.2,382.3 357.2,379.4 Z" stroke-width="2"/>
<path class="k" d="M360,380.5 C360,378 362,376.5 365,376.5 C368,376.5 370,378 370,380 C368,379.2 362.5,379.3 360,380.5 Z"/>
<path class="k" d="M350,375 L355,373.5 L355.5,377 L350.5,378.5 Z"/>
<path class="t" d="M347.5,378.5 C349,376 351,375.5 352,377"/>
<path class="t" d="M377,376 C379,375 381,376 381,378 C381,380 379,381 377.5,380"/>
<circle cx="391" cy="394.8" r="3.3" class="s" stroke-width="2.6"/>
<path class="k" d="M386,399 C388,401 392,401.5 395,400.5 L397.5,398.5 C395,399.5 391,399.8 388,398.5 Z"/>
<path class="n" d="M379,385 C381,383 384,382.5 385.5,384.5" stroke-width="1.7"/>
<!-- lower seat -->
<path class="s" d="M352.5,356.5 C352.5,352 358,349.5 365,349.5 C372,349.5 377.3,352 377.3,356.5 L377.3,359.5 C377.3,363.5 372,365.8 365,365.8 C358,365.8 352.5,363.5 352.5,359.5 Z" stroke-width="2.2"/>
<path class="n" d="M357,356.5 C357.5,353.5 361,352.3 365,352.3 C369,352.3 372.5,353.5 373,356.5 C372.5,360 369,361.3 365,361.3 C361,361.3 357.5,360 357,356.5 Z" stroke-width="1.9"/>
<path class="t" d="M360,357 L361.5,354.5 L368.5,354.5 L370,357 L368.5,359 L361.5,359 Z" stroke-width="1.4"/>
</g>
<!-- stabilizer bar -->
<g id="stab">
<path d="M161.5,233.6 C158,235.5 154,237.5 148,240.3 C142,242.5 137,243.5 134.5,245.8 C132,248 133.5,251 137,252.5 C142,255 149,255.5 156,256.6 C163,257.7 170,259.5 178,264 C186,268.5 194,274 202,279.5 C210,284.5 221,290 228,295.4 C233,299.5 235.5,303 237.8,307.5 C240,311.5 243,314.5 247.5,316.8 C252,318.8 257,318.8 262.3,317.8 C268,316.5 274,314 280,311.2 C284,309.5 287,307.8 289.5,306.5" fill="none" stroke="#111" stroke-width="7.2" stroke-linecap="round" stroke-linejoin="round"/>
<path d="M161.5,233.6 C158,235.5 154,237.5 148,240.3 C142,242.5 137,243.5 134.5,245.8 C132,248 133.5,251 137,252.5 C142,255 149,255.5 156,256.6 C163,257.7 170,259.5 178,264 C186,268.5 194,274 202,279.5 C210,284.5 221,290 228,295.4 C233,299.5 235.5,303 237.8,307.5 C240,311.5 243,314.5 247.5,316.8 C252,318.8 257,318.8 262.3,317.8 C268,316.5 274,314 280,311.2 C284,309.5 287,307.8 289.5,306.5" fill="none" stroke="#fff" stroke-width="3.4" stroke-linecap="round" stroke-linejoin="round"/>
<path d="M155.3,235 C156.5,236.5 157.5,238.3 157.8,240" fill="none" stroke="#111" stroke-width="1.8" stroke-linecap="round"/>
<path d="M284.5,305 C286.5,303 290,301.8 292,303 C294,304.5 293.5,307.5 291.5,309.5 C289.5,311 287,311.3 285.5,310 Z" class="k"/>
<path d="M283,306.5 L285.5,311" stroke="#111" stroke-width="2" />
</g>
<!-- end link -->
<g id="endlink">
<path class="s" d="M260.3,279 L261,295.5 L264.3,295.5 L264,279 Z" stroke-width="2"/>
<path class="s" d="M258,275 C257,270 259.5,267 263,267 C266,267 268,269.5 267.5,273 C267,276 265.5,278.5 264,280 L261,280 C259.5,278.5 258.5,277 258,275 Z" stroke-width="2.4"/>
<path class="k" d="M259.3,272 C259.5,270 261,268.8 262.8,268.8 C261.5,270.3 261,272.5 261.3,275 L260.2,276 C259.5,275 259.2,273.5 259.3,272 Z"/>
<path class="s" d="M264,274.5 L271.5,275.5 C273.5,276.3 273.8,278.8 271.5,279.5 L264.5,278.5 Z" stroke-width="2"/>
<circle cx="260.2" cy="299.5" r="5.3" class="s" stroke-width="2.3"/>
<path class="k" d="M260.5,294.2 C257,294.2 254.9,296.8 254.9,299.5 C254.9,302.5 257,304.8 260.5,304.8 L261,303 C260,301 260,297.5 261,295.5 Z"/>
</g>
<!-- bushing -->
<g id="bushing">
<path class="s" d="M127,278 C127,274.5 130,272 134,272 C137,272 140,273.5 142,276 C144,279 144.5,283 143.5,286 C142.5,288.5 139.5,289 137,288 C133,286.5 129.5,284 127.8,281.5 Z" stroke-width="2.3"/>
<ellipse cx="139.3" cy="282.5" rx="3.8" ry="5.6" transform="rotate(-15 139.3 282.5)" class="s" stroke-width="2"/>
<path class="t" d="M140.5,280.5 C138.5,279.5 137,281 137.5,283 C138,285.5 140,286 141.5,285 M138,283 L140.5,282.5" stroke-width="1.5"/>
<path class="t" d="M130.5,279.5 C131,276.5 133.5,275 136,276" stroke-width="1.7"/>
</g>
<!-- bracket -->
<g id="bracket">
<path class="s" d="M110,279 C110,276.5 112,275.5 114,275.8 C117,276.2 120,278.5 121,281.5 C121.5,284.5 120.5,288 118.5,290 C117,291.5 115.5,292.5 115.5,294 C117.5,295.5 119.5,297 120.3,299.5 C120.5,302 119,303.5 116.5,303 C113.5,302.5 111.5,300 110.5,297 C109.5,295.5 108,295 106.5,294 C104.5,292.5 103.5,289.5 104.5,286.5 C105.5,284 108,283 109.5,282 Z" stroke-width="2.3"/>
<path class="t" d="M113,279 C114.5,278 116.5,279 116.5,281 C116.5,283 115,284 113.5,283" stroke-width="1.5"/>
<path class="t" d="M107,291 C106.5,288 107.5,286 110,285" stroke-width="1.5"/>
<ellipse cx="116.3" cy="299.3" rx="2.2" ry="2" class="t" stroke-width="1.5"/>
<path class="k" d="M117.5,284 C119,283 120.5,284.5 120,287 C119,289 117,290 116,289 Z"/>
</g>
<!-- FR arrow -->
<g id="fr">
<path class="k" d="M56.6,378.9 L60.6,368.3 L62.5,371.3 L79.2,365.3 L81.8,372.3 L65.5,378.4 L68.1,383.8 Z" stroke-width="0.8"/>
<path d="M84.4,372.3 L81.2,363.6 L86.3,361.1 M82.9,367.9 L87.3,366" fill="none" stroke="#111" stroke-width="2.25" stroke-linecap="butt" stroke-linejoin="miter"/>
<path d="M92.3,368 L88.7,360.1 L93.3,358.3 C95.3,357.7 96.8,359 96.4,361.1 C96,363 94.2,364 91.5,364.5 M93,364.2 L99,365.6" fill="none" stroke="#111" stroke-width="2.25" stroke-linecap="butt" stroke-linejoin="miter"/>
<circle cx="102.1" cy="363" r="1" fill="#111"/>
</g>
<!-- red boxes -->
<rect x="316.1" y="344.9" width="32.4" height="32.4" class="r"/>
<rect x="376.4" y="378.2" width="31.1" height="30.8" class="r"/>
</svg>
</body></html>
